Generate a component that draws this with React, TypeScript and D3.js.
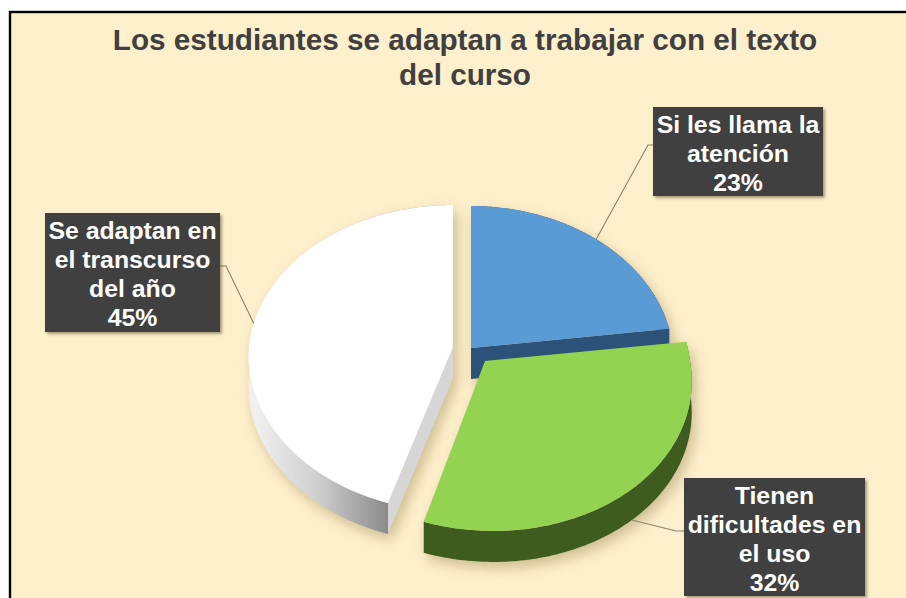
import React from "react";
import * as d3 from "d3";

const categories = ["Si les llama la atención", "Tienen dificultades en el uso", "Se adaptan en el transcurso del año"];
const values = [23, 32, 45];
const labelLines = [
  ["Si les llama la", "atención", "23%"],
  ["Tienen", "dificultades en", "el uso", "32%"],
  ["Se adaptan en", "el transcurso", "del año", "45%"],
];
const titleLines = ["Los estudiantes se adaptan a trabajar con el texto", "del curso"];

const W = 906, H = 598;
const DEPTH = 31;
const apex = [
  { x: 471, y: 348, R: 202, K: 154.7, A: 0.0897, S: 0 },
  { x: 485, y: 361, R: 205, K: 154.7, A: 0.0897, S: -8.4 },
  { x: 453, y: 347, R: 204, K: 152.5, A: 0.074, S: -3 },
];
const tops = ["#5b9bd5", "#94d351", "#ffffff"];
const walls = ["#2d5279", "#3f5c20", "url(#wallWhite)"];
const cuts = ["#2d5279", null, "#d6d6d6"];
const cutUsesEnd = [true, false, false];
const boxes = [
  { x: 653, y: 107, w: 170, h: 89, lead: [[653, 145], [648, 145]], wall: 0 },
  { x: 684, y: 478, w: 181, h: 118, lead: [[684, 531], [676, 531]], wall: 1 },
  { x: 45, y: 213, w: 175, h: 119, lead: [[220, 266], [226, 266]], wall: 0 },
];

const pie = d3.pie<number>().sort(null).startAngle(0).endAngle(2 * Math.PI);
const arcs = pie(values);

function project(i: number, theta: number, r = 1): [number, number] {
  const u = Math.sin(theta) * r, v = Math.cos(theta) * r;
  const a = apex[i];
  const w = 1 + a.A * v;
  return [a.x + (a.R * u) / w + (v < 0 ? a.S * v : 0), a.y + (-a.K * v) / w];
}
const line = d3.line();
function arcPts(i: number, a0: number, a1: number) {
  return d3.range(0, 121).map((s) => project(i, a0 + ((a1 - a0) * s) / 120));
}
function topPath(i: number) {
  const { startAngle, endAngle } = arcs[i];
  return line([project(i, 0, 0), ...arcPts(i, startAngle, endAngle)]) + "Z";
}
function wallPath(i: number) {
  const { startAngle, endAngle } = arcs[i];
  const pts = arcPts(i, startAngle, endAngle);
  const low = pts.map(([x, y]) => [x, y + DEPTH] as [number, number]).reverse();
  return line([...pts, ...low]) + "Z";
}
function cutPath(i: number) {
  const ang = cutUsesEnd[i] ? arcs[i].endAngle : arcs[i].startAngle;
  const c = project(i, 0, 0), t = project(i, ang);
  return line([c, t, [t[0], t[1] + DEPTH], [c[0], c[1] + DEPTH]]) + "Z";
}
function leaderAnchor(i: number): [number, number] {
  const mid = (arcs[i].startAngle + arcs[i].endAngle) / 2;
  const p = project(i, mid);
  return [p[0], p[1] + (boxes[i].wall ? DEPTH : 0)];
}
const order = [2, 0, 1];
const font = "'Liberation Sans', Arial, sans-serif";

export default function App() {
  return (
    <svg width={W} height={H} viewBox={`0 0 ${W} ${H}`} style={{ position: "absolute", left: 0, top: 0 }}>
      <defs>
        <linearGradient id="wallWhite" gradientUnits="userSpaceOnUse" x1={255} x2={392} y1={0} y2={0}>
          <stop offset="0" stopColor="#f0f0f0" />
          <stop offset="0.45" stopColor="#cfcfcf" />
          <stop offset="1" stopColor="#878787" />
        </linearGradient>
        <filter id="blur" x="-20%" y="-20%" width="140%" height="140%">
          <feGaussianBlur stdDeviation="7" />
        </filter>
        <filter id="boxShadow" x="-10%" y="-10%" width="120%" height="120%">
          <feDropShadow dx="2" dy="2" stdDeviation="1.5" floodColor="#5a5030" floodOpacity="0.55" />
        </filter>
      </defs>
      <rect width={W} height={H} fill="#ffffff" />
      <rect x={10} y={12} width={W + 10} height={H} fill="#fff0cd" stroke="#000" strokeWidth={2.4} />
      <g fontFamily={font} fontWeight="bold" fontSize={29.7} fill="#404040" textAnchor="middle">
        {titleLines.map((t, i) => (
          <text key={t} x={465} y={50 + i * 35}>{t}</text>
        ))}
      </g>
      <g fill="#8a7a45" transform="translate(4,6)">
        {order.map((i) => (
          <g key={i} filter="url(#blur)" opacity={0.44}>
            <path d={topPath(i)} />
            <path d={wallPath(i)} />
            {cuts[i] && <path d={cutPath(i)} />}
          </g>
        ))}
      </g>
      {order.map((i) => (
        <path key={`l${i}`} d={line([leaderAnchor(i), ...(boxes[i].lead.slice().reverse() as [number, number][])]) as string} fill="none" stroke="#8a8068" strokeWidth={1.1} />
      ))}
      {order.map((i) => (
        <g key={categories[i]}>
          <path d={wallPath(i)} fill={walls[i]} />
          {cuts[i] && <path d={cutPath(i)} fill={cuts[i] as string} />}
          <path d={topPath(i)} fill={tops[i]} />
        </g>
      ))}
      {boxes.map((b, i) => {
        const n = labelLines[i].length;
        const lh = 29;
        const y0 = b.y + b.h / 2 - ((n - 1) * lh) / 2 + 10;
        return (
          <g key={`b${i}`}>
            <rect x={b.x} y={b.y} width={b.w} height={b.h} fill="#3f3f3f" filter="url(#boxShadow)" />
            <g fontFamily={font} fontWeight="bold" fontSize={24.8} fill="#fff" textAnchor="middle">
              {labelLines[i].map((t, j) => (
                <text key={t} x={b.x + b.w / 2} y={y0 + j * lh}>{t}</text>
              ))}
            </g>
          </g>
        );
      })}
    </svg>
  );
}
